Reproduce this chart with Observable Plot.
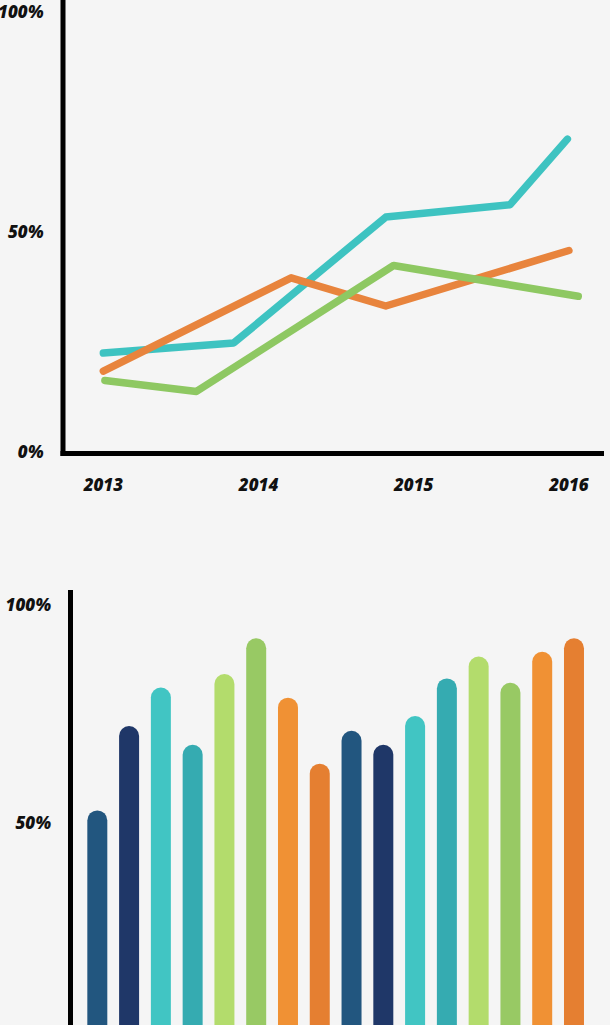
<!DOCTYPE html>
<html>
<head>
<meta charset="utf-8">
<script src="https://cdn.jsdelivr.net/npm/d3@7"></script>
<script src="https://cdn.jsdelivr.net/npm/@observablehq/plot@0.6"></script>
<style>
  html, body { margin: 0; padding: 0; background: #f5f5f5; width: 610px; height: 1025px; overflow: hidden; }
  #topChart, #bottomChart { display: block; }
  svg { display: block; }
</style>
</head>
<body>
<div id="topChart"></div>
<div id="bottomChart"></div>
<script>
// ---------- Line chart data ----------
const yearTicks = [2013, 2014, 2015, 2016];
const percentTicksTop = [0, 50, 100];

// each series: fractional year positions and percentage values
const seriesAYears  = [2013.0, 2013.84, 2014.82, 2015.62, 2015.99];
const seriesAValues = [22.8, 25.1, 53.7, 56.5, 71.4];
const seriesBYears  = [2013.0, 2014.21, 2014.82, 2016.0];
const seriesBValues = [18.7, 39.9, 33.5, 46.1];
const seriesCYears  = [2013.01, 2013.60, 2014.87, 2016.06];
const seriesCValues = [16.6, 14.1, 42.7, 35.7];

const lineSeries = ["Series A", "Series B", "Series C"];
const lineColors = ["#3ec3c1", "#e8843d", "#8ec862"];

// ---------- Bar chart data ----------
const barIds = ["b1","b2","b3","b4","b5","b6","b7","b8","b9","b10","b11","b12","b13","b14","b15","b16"];
const barValues = [53.0, 72.3, 81.1, 68.0, 84.2, 92.4, 78.8, 63.7, 71.2, 68.0, 74.6, 83.2, 88.2, 82.2, 89.3, 92.4];
const barColors = ["#22567f","#1f3768","#41c5c3","#35abb1","#b3dc6c","#98c964","#f09134","#e57f31",
                   "#22567f","#1f3768","#41c5c3","#35abb1","#b3dc6c","#98c964","#f09134","#e57f31"];
const percentTicksBottom = [50, 100];

// ---------- build tables ----------
const lineRows = [];
[[seriesAYears, seriesAValues], [seriesBYears, seriesBValues], [seriesCYears, seriesCValues]].forEach(([ys, vs], s) => {
  ys.forEach((yr, i) => lineRows.push({series: lineSeries[s], year: yr, value: vs[i]}));
});
const barRows = barIds.map((id, i) => ({id, value: barValues[i], color: barColors[i]}));

const font = {fontFamily: "'Open Sans', sans-serif", fontSize: 17, fontWeight: 800, fontStyle: "italic", fill: "#111"};

// ---------- top: line chart ----------
const lineChart = Plot.plot({
  width: 610,
  height: 510,
  marginLeft: 62.5,
  marginRight: 9,
  marginTop: 0,
  marginBottom: 57,
  style: "background: transparent; overflow: visible;",
  x: {domain: [2012.74, 2016.21], axis: null},
  y: {domain: [0, 102.88], axis: null},
  color: {type: "ordinal", domain: lineSeries, range: lineColors},
  marks: [
    Plot.line(lineRows, {x: "year", y: "value", z: "series", stroke: "series",
      strokeWidth: 7.5, strokeLinecap: "round", strokeLinejoin: "round"}),
    Plot.frame({anchor: "left", stroke: "#000", strokeWidth: 5, strokeLinecap: "square"}),
    Plot.frame({anchor: "bottom", stroke: "#000", strokeWidth: 5, strokeLinecap: "square"}),
    Plot.text(percentTicksTop, {y: d => d, text: d => d + "%", frameAnchor: "left", dx: -19.5, dy: -1, textAnchor: "end", ...font}),
    Plot.text(yearTicks, {x: d => d, text: d => String(d), frameAnchor: "bottom", dy: 37, ...font})
  ]
});
document.getElementById("topChart").appendChild(lineChart);

// ---------- bottom: bar chart ----------
const barChart = Plot.plot({
  width: 610,
  height: 532,
  marginLeft: 70,
  marginRight: 8.7,
  marginTop: 82,
  marginBottom: 0,
  style: "background: transparent; overflow: visible;",
  x: {type: "band", domain: barIds, paddingInner: 0.371, paddingOuter: 0.545, round: false, axis: null},
  y: {domain: [0, 102.98], axis: null},
  color: {type: "identity"},
  marks: [
    Plot.barY(barRows, {x: "id", y: "value", fill: "color", rx: 10}),
    Plot.frame({anchor: "left", stroke: "#000", strokeWidth: 5}),
    Plot.text(percentTicksBottom, {y: d => d, text: d => d + "%", frameAnchor: "left", dx: -19.5, textAnchor: "end", ...font})
  ]
});
document.getElementById("bottomChart").appendChild(barChart);
</script>
</body>
</html>
